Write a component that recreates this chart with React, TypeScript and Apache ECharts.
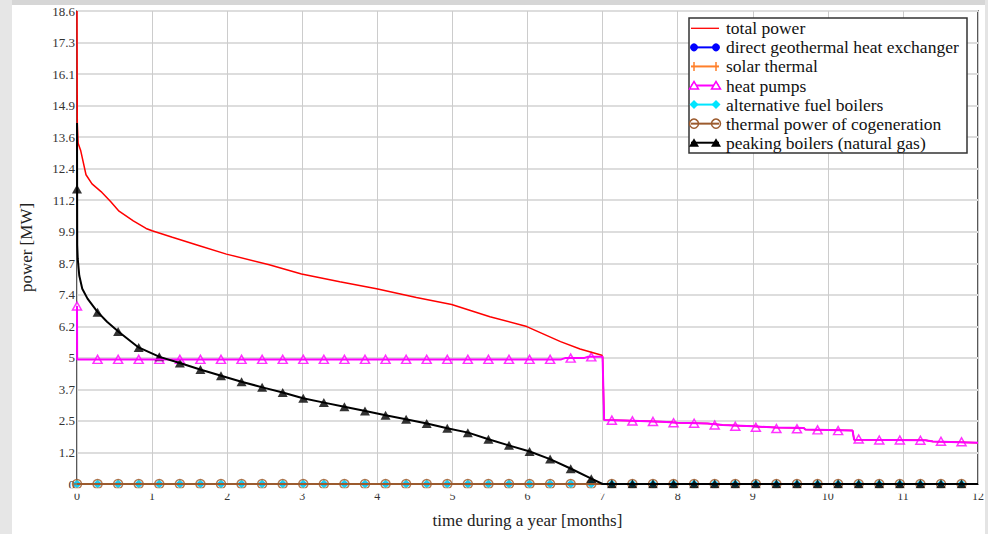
import React, { useEffect, useRef } from "react";
import * as echarts from "echarts";

// ---------- data ----------
const yTickLabels = ["0", "1.2", "2.5", "3.7", "5", "6.2", "7.4", "8.7", "9.9", "11.2", "12.4", "13.6", "14.9", "16.1", "17.3", "18.6"];
const xTickLabels = ["0", "1", "2", "3", "4", "5", "6", "7", "8", "9", "10", "11", "12"];

const seriesNames = [
  "total power",
  "direct geothermal heat exchanger",
  "solar thermal",
  "heat pumps",
  "alternative fuel boilers",
  "thermal power of cogeneration",
  "peaking boilers (natural gas)",
];

// markers every 200 hours (730 h per month)
const markerStepHours = 200;
const hoursPerMonth = 730;

const totalPowerBefore7: [number, number][] = [
  [0, 18.6], [0.004, 14.2], [0.015, 13.4], [0.05, 13.1], [0.12, 12.16], [0.2, 11.8],
  [0.32, 11.5], [0.45, 11.1], [0.56, 10.73], [0.75, 10.35], [0.92, 10.05], [1.0, 9.96],
  [1.27, 9.7], [1.63, 9.37], [1.99, 9.04], [2.56, 8.62], [2.99, 8.26], [3.5, 7.95],
  [3.99, 7.68], [4.52, 7.33], [4.99, 7.06], [5.5, 6.58], [5.99, 6.19], [6.44, 5.6],
  [6.7, 5.31], [6.99, 5.06],
];

const heatPumpsLine: [number, number][] = [
  [0, 7.0], [0.002, 4.9], [6.45, 4.9], [6.5, 4.95], [6.75, 4.95], [6.8, 5.0], [7.0, 5.0],
  [7.02, 2.52], [7.3, 2.5], [7.8, 2.45], [8.0, 2.41], [8.4, 2.38], [8.6, 2.32], [9.0, 2.27],
  [9.3, 2.22], [9.68, 2.2], [9.7, 2.14], [10.33, 2.1], [10.35, 1.74], [11.3, 1.72],
  [11.4, 1.67], [12, 1.62],
];

const peakingLine: [number, number][] = [
  [0, 14.2], [0.003, 9.4], [0.01, 8.85], [0.03, 8.2], [0.07, 7.68], [0.14, 7.29], [0.27, 6.78],
  [0.4, 6.38], [0.55, 6.0], [0.82, 5.37], [1.1, 5.0], [1.37, 4.76], [1.64, 4.5], [1.92, 4.26],
  [2.19, 4.02], [2.47, 3.8], [2.74, 3.6], [3.01, 3.37], [3.29, 3.2], [3.56, 3.04], [3.84, 2.87],
  [4.11, 2.7], [4.38, 2.55], [4.66, 2.38], [4.93, 2.19], [5.21, 2.02], [5.48, 1.76], [5.75, 1.52],
  [6.03, 1.28], [6.3, 0.98], [6.58, 0.6], [6.85, 0.21], [7.0, 0], [12, 0],
];

const zeroLine: [number, number][] = [[0, 0], [12, 0]];

const heatPumpsMarks = [
  7.0, 4.9, 4.9, 4.9, 4.9, 4.9, 4.9, 4.9, 4.9, 4.9, 4.9, 4.9, 4.9, 4.9, 4.9, 4.9, 4.9, 4.9, 4.9, 4.9,
  4.9, 4.9, 4.9, 4.9, 4.95, 5.0, 2.51, 2.48, 2.46, 2.41, 2.39, 2.32, 2.27, 2.23, 2.18, 2.17, 2.13,
  2.1, 1.77, 1.73, 1.73, 1.72, 1.68, 1.66,
];

const peakingMarks = [
  11.6, 6.75, 6.0, 5.37, 5.0, 4.76, 4.5, 4.26, 4.02, 3.8, 3.6, 3.37, 3.2, 3.04, 2.87, 2.7, 2.55,
  2.38, 2.19, 2.02, 1.76, 1.52, 1.28, 0.98, 0.6, 0.21, 0, 0, 0, 0, 0, 0, 0, 0, 0, 0, 0, 0, 0, 0, 0,
  0, 0, 0,
];

const zeroMarks = [
  0, 0, 0, 0, 0, 0, 0, 0, 0, 0, 0, 0, 0, 0, 0, 0, 0, 0, 0, 0, 0, 0, 0, 0, 0, 0, 0, 0, 0, 0, 0, 0, 0,
  0, 0, 0, 0, 0, 0, 0, 0, 0, 0, 0,
];

// ---------- styling ----------
const FONT = "Liberation Serif";
const C = {
  red: "#ff0000",
  blue: "#0000ff",
  orange: "#ff7f2a",
  magenta: "#ff00ff",
  cyan: "#00e5ff",
  brown: "#9c5b2e",
  black: "#000000",
};

const toMarkData = (vals: number[]) =>
  vals.map((v, i) => [(i * markerStepHours) / hoursPerMonth, v]);

const plusPath = "path://M0,5L10,5M5,0L5,10";
const thetaPath = "path://M0,5A5,5 0 1 1 10,5A5,5 0 1 1 0,5ZM0,5L10,5";

function lineSeries(name: string, data: any[], color: string, width: number) {
  return {
    name,
    type: "line",
    data,
    symbol: "none",
    lineStyle: { color, width },
    itemStyle: { color },
    clip: true,
    silent: true,
  };
}

function markSeries(name: string, vals: number[], symbol: string, size: any, itemStyle: any) {
  return {
    name: name + " markers",
    type: "scatter",
    data: toMarkData(vals),
    symbol,
    symbolSize: size,
    itemStyle,
    clip: true,
    silent: true,
  };
}

function legendGraphics() {
  const x0 = 689, y0 = 18, w = 278, h = 135;
  const els: any[] = [
    { type: "rect", shape: { x: x0, y: y0, width: w, height: h }, style: { fill: "#fff", stroke: "#333", lineWidth: 1.5 }, z: 200 },
  ];
  const colors = [C.red, C.blue, C.orange, C.magenta, C.cyan, C.brown, C.black];
  const sx = [694, 716];
  seriesNames.forEach((name, i) => {
    const cy = 28.3 + i * 19.07;
    const col = colors[i];
    els.push({ type: "line", shape: { x1: 691, y1: cy, x2: 719, y2: cy }, style: { stroke: col, lineWidth: i === 0 ? 1.3 : 2 }, z: 201 });
    sx.forEach((cx) => {
      if (i === 1) els.push({ type: "circle", shape: { cx, cy, r: 4 }, style: { fill: col }, z: 202 });
      if (i === 2) {
        els.push({ type: "line", shape: { x1: cx, y1: cy - 4.5, x2: cx, y2: cy + 4.5 }, style: { stroke: col, lineWidth: 1.5 }, z: 202 });
      }
      if (i === 3)
        els.push({ type: "polygon", shape: { points: [[cx - 4.5, cy + 3.5], [cx + 4.5, cy + 3.5], [cx, cy - 4]] }, style: { fill: "#fff", stroke: col, lineWidth: 1.5 }, z: 202 });
      if (i === 4)
        els.push({ type: "polygon", shape: { points: [[cx - 4.5, cy], [cx, cy - 4.5], [cx + 4.5, cy], [cx, cy + 4.5]] }, style: { fill: col }, z: 202 });
      if (i === 5) els.push({ type: "circle", shape: { cx, cy, r: 4.5 }, style: { fill: "none", stroke: col, lineWidth: 1.5 }, z: 202 });
      if (i === 6)
        els.push({ type: "polygon", shape: { points: [[cx - 5, cy + 4], [cx + 5, cy + 4], [cx, cy - 4.5]] }, style: { fill: col }, z: 202 });
    });
    els.push({
      type: "text",
      x: 726,
      y: cy,
      style: { text: name, fill: "#111", fontFamily: FONT, fontSize: 17.5, align: "left", verticalAlign: "middle" },
      z: 202,
    });
  });
  return els;
}

export default function App() {
  const ref = useRef<HTMLDivElement>(null);
  useEffect(() => {
    if (!ref.current) return;
    const chart = echarts.init(ref.current, undefined, { renderer: "svg" });
    const totalPowerLine = totalPowerBefore7.concat(heatPumpsLine.filter((p) => p[0] >= 7));
    const option: any = {
      animation: false,
      backgroundColor: "#ffffff",
      grid: {
        left: 77,
        right: 10,
        top: 11,
        bottom: 47,
        show: true,
        borderColor: "#222",
        borderWidth: 1.5,
        backgroundColor: "#fff",
      },
      xAxis: {
        type: "value",
        min: 0,
        max: 12,
        interval: 1,
        name: "time during a year [months]",
        nameLocation: "middle",
        nameGap: 28,
        nameTextStyle: { fontFamily: FONT, fontSize: 17, color: "#222" },
        axisLine: { show: false },
        axisTick: { show: false },
        axisLabel: {
          margin: 6,
          fontFamily: FONT,
          fontSize: 12,
          color: "#333",
          formatter: (v: number) => xTickLabels[Math.round(v)] ?? "",
        },
        splitLine: { show: true, lineStyle: { color: "#cccccc", width: 1 } },
      },
      yAxis: {
        type: "value",
        min: 0,
        max: 18.6,
        interval: 1.24,
        name: "power [MW]",
        nameLocation: "middle",
        nameGap: 42,
        nameRotate: 90,
        nameTextStyle: { fontFamily: FONT, fontSize: 17, color: "#222" },
        axisLine: { show: false },
        axisTick: { show: false },
        axisLabel: {
          margin: 2,
          fontFamily: FONT,
          fontSize: 13,
          color: "#333",
          formatter: (v: number) => yTickLabels[Math.round(v / 1.24)] ?? "",
        },
        splitLine: { show: true, lineStyle: { color: "#dddddd", width: 2 } },
      },
      series: [
        lineSeries(seriesNames[0], totalPowerLine, C.red, 1.5),
        lineSeries(seriesNames[1], zeroLine, C.blue, 2),
        markSeries(seriesNames[1], zeroMarks, "circle", 6, { color: C.blue }),
        lineSeries(seriesNames[2], zeroLine, C.orange, 2),
        markSeries(seriesNames[2], zeroMarks, plusPath, 9, { color: "none", borderColor: C.orange, borderWidth: 1.5 }),
        lineSeries(seriesNames[3], heatPumpsLine, C.magenta, 2),
        markSeries(seriesNames[3], heatPumpsMarks, "triangle", [9, 8], { color: "#fff", borderColor: C.magenta, borderWidth: 1.5 }),
        lineSeries(seriesNames[4], zeroLine, C.cyan, 2),
        markSeries(seriesNames[4], zeroMarks, "diamond", [9, 9], { color: C.cyan }),
        lineSeries(seriesNames[5], zeroLine, C.brown, 2),
        markSeries(seriesNames[5], zeroMarks, thetaPath, 9, { color: "none", borderColor: C.brown, borderWidth: 1.5 }),
        lineSeries(seriesNames[6], peakingLine, C.black, 2),
        markSeries(seriesNames[6], peakingMarks, "triangle", [10, 9], { color: C.black }),
      ],
      graphic: [
        // mask below the plot bottom so that markers at zero look clipped
        { type: "rect", shape: { x: 60, y: 488.2, width: 925, height: 5.5 }, style: { fill: "#ffffff" }, z: 100, silent: true },
        // page frame
        { type: "rect", shape: { x: 0, y: 0, width: 988, height: 5 }, style: { fill: "#d6d6d6" }, z: 150, silent: true },
        { type: "rect", shape: { x: 0, y: 0, width: 12, height: 534 }, style: { fill: "#e6e6e6" }, z: 150, silent: true },
        { type: "rect", shape: { x: 985, y: 0, width: 3, height: 534 }, style: { fill: "#e4e4e4" }, z: 150, silent: true },
        ...legendGraphics(),
      ],
    };
    chart.setOption(option);
    return () => chart.dispose();
  }, []);
  return (
    <div
      ref={ref}
      style={{ position: "fixed", left: 0, top: 0, width: 988, height: 534, background: "#fff" }}
    />
  );
}
